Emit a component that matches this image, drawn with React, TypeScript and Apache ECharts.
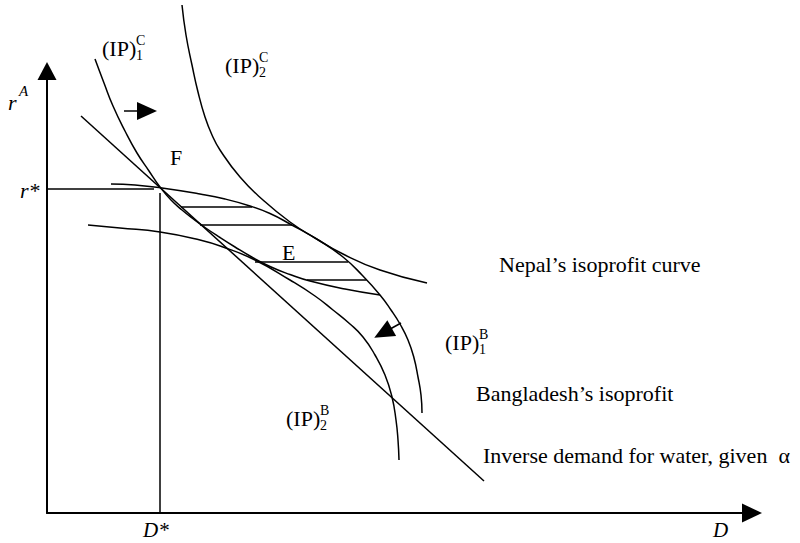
import React, { useEffect, useRef } from "react";
import * as echarts from "echarts";

// Axis extents (data units)
const xMax = 705;
const yMax = 442;

// Inverse demand for water (straight line)
const demandLine = [[34, 397], [437, 32]];
// Nepal's isoprofit curves (IP)^C
const ipC1 = [[48, 454], [57, 430], [66, 407], [78, 382], [90, 360], [102, 342], [113, 326], [124, 313], [135, 303], [147, 293.5], [158, 285.5], [173, 275.5], [188, 266], [203, 257], [223, 246.5], [243, 238.5], [263, 232], [298, 224], [333, 218]];
const ipC2 = [[135, 508], [139, 478], [145, 448], [151, 421], [158, 396], [165, 378], [173, 363], [193, 336], [216, 313], [243, 291], [268, 275], [296, 259], [333, 243], [380, 230]];
// Bangladesh's isoprofit curves (IP)^B
const ipB1 = [[64, 329], [88, 328], [115, 325], [153, 319], [178, 314], [203, 307], [223, 299.5], [243, 289], [273, 272], [296, 256], [315, 238], [333, 218], [344, 203], [353, 189], [361, 173], [367, 155], [371, 136], [374, 118], [375, 100]];
const ipB2 = [[41, 288], [73, 285], [113, 281], [153, 273], [176, 266], [208, 253], [243, 233], [268, 217], [286, 203], [303, 189], [316, 176], [328, 158], [338, 138], [345, 116], [349, 93], [351, 73], [352, 53]];
// Hatching of the lens
const hatchY = [306, 288, 251, 233];
const hatchFrom = [134, 153, 208, 260];
const hatchTo = [205, 245, 301, 319.5];
// Equilibrium guides
const rStar = 324;
const rStarEnd = 107;
const dStar = 113;
const dStarTop = 320;
// Direction arrows
const arrowC = [[77, 402], [100, 402]];
const arrowB = [[354, 190], [336, 180]];

const SERIF = '"Liberation Serif", "Times New Roman", serif';

function txt(x: number, y: number, text: string, size = 22, italic = false) {
  const font = `${italic ? "italic " : ""}${size}px ${SERIF}`;
  return {
    type: "text",
    x,
    y,
    silent: true,
    style: {
      text,
      font,
      fill: "#000",
      align: "left",
      verticalAlign: "middle",
      textAlign: "left",
      textVerticalAlign: "middle",
    },
  };
}

function ipLabel(x: number, y: number, sub: string, sup: string) {
  return {
    type: "group",
    x,
    y,
    children: [txt(0, 0, "(IP)"), txt(34, 7, sub, 14), txt(34, -8, sup, 14)],
  };
}

export default function App() {
  const ref = useRef<HTMLDivElement>(null);
  useEffect(() => {
    if (!ref.current) return;
    const chart = echarts.init(ref.current, null, { renderer: "svg" });
    const lineStyle = { color: "#000", width: 1.5 };
    const curve = (data: number[][], smooth: boolean | number = 0.5) => ({
      type: "line",
      data,
      smooth,
      showSymbol: false,
      symbol: "none",
      clip: false,
      silent: true,
      lineStyle,
    });
    const hatches = hatchY.map((y, i) =>
      curve([[hatchFrom[i], y], [hatchTo[i], y]], false)
    );
    chart.setOption({
      animation: false,
      backgroundColor: "#fff",
      grid: { left: 47, right: 48, top: 71, bottom: 30, containLabel: false },
      xAxis: {
        type: "value",
        min: 0,
        max: xMax,
        axisLine: {
          show: true,
          symbol: ["none", "triangle"],
          symbolSize: [19, 20],
          lineStyle: { color: "#000", width: 2 },
        },
        axisTick: { show: false },
        axisLabel: { show: false },
        splitLine: { show: false },
      },
      yAxis: {
        type: "value",
        min: 0,
        max: yMax,
        axisLine: {
          show: true,
          symbol: ["none", "triangle"],
          symbolSize: [19, 18],
          lineStyle: { color: "#000", width: 2 },
        },
        axisTick: { show: false },
        axisLabel: { show: false },
        splitLine: { show: false },
      },
      series: [
        {
          ...curve(demandLine, false),
          markLine: {
            silent: true,
            symbol: ["none", "triangle"],
            symbolSize: [18, 20],
            lineStyle: { color: "#000", width: 1.5, type: "solid" },
            label: { show: false },
            data: [
              [{ coord: arrowC[0] }, { coord: arrowC[1] }],
              [{ coord: arrowB[0] }, { coord: arrowB[1] }],
            ],
          },
        },
        curve(ipC1),
        curve(ipC2),
        curve(ipB1),
        curve(ipB2),
        curve([[0, rStar], [rStarEnd, rStar]], false),
        curve([[dStar, 0], [dStar, dStarTop]], false),
        ...hatches,
      ],
      graphic: [
        ipLabel(102, 48, "1", "C"),
        ipLabel(225, 65, "2", "C"),
        ipLabel(445, 342, "1", "B"),
        ipLabel(286, 418, "2", "B"),
        txt(8, 102, "r", 22, true),
        txt(19, 91, "A", 15, true),
        txt(20, 190, "r*", 22, true),
        txt(170, 157, "F"),
        txt(282, 252, "E"),
        txt(499, 264, "Nepal\u2019s isoprofit curve"),
        txt(476, 393, "Bangladesh\u2019s isoprofit"),
        txt(483, 455, "Inverse demand for water, given  \u03b1"),
        txt(143, 530, "D*", 21, true),
        txt(713, 530, "D", 21, true),
      ],
    });
    return () => chart.dispose();
  }, []);
  return (
    <div
      ref={ref}
      style={{ position: "fixed", left: 0, top: 0, width: 800, height: 543, background: "#fff" }}
    />
  );
}
